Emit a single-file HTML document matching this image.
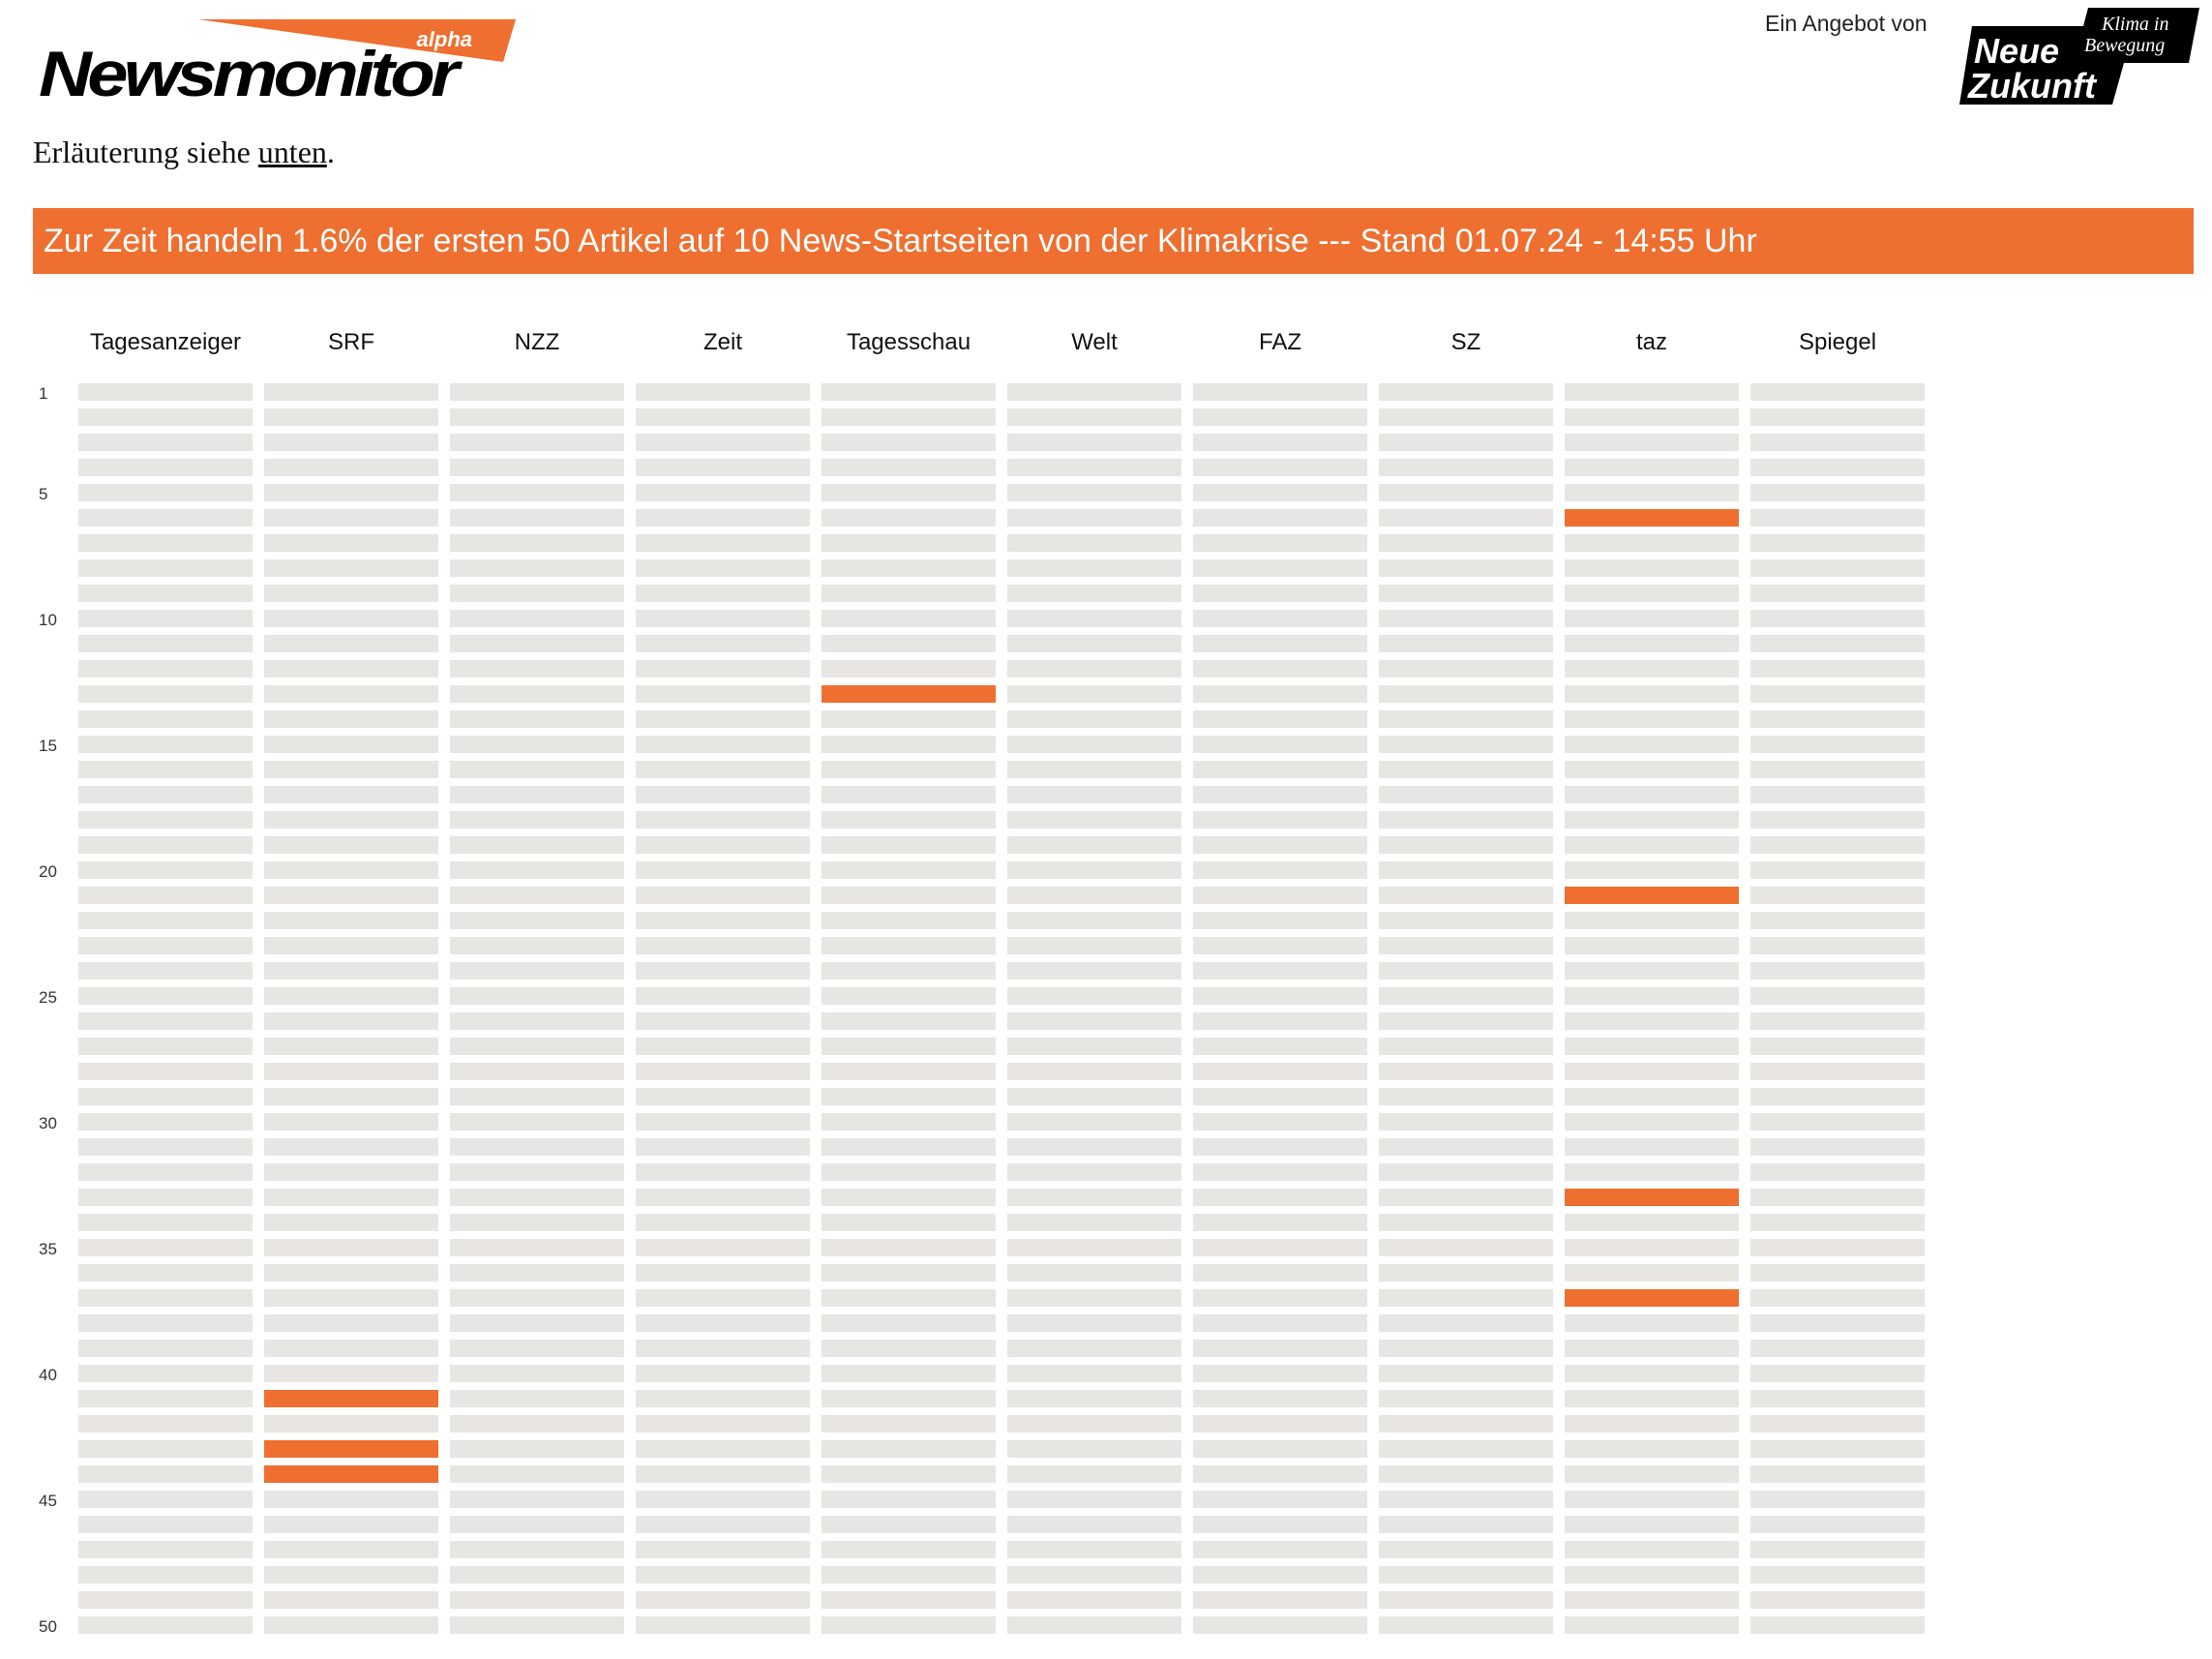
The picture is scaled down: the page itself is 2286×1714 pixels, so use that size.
<!DOCTYPE html>
<html>
<head>
<meta charset="utf-8">
<style>
  html,body{margin:0;padding:0;background:#fff;}
  body{width:2286px;height:1714px;position:relative;overflow:hidden;font-family:"Liberation Sans",sans-serif;}
  .abs{position:absolute;}
  #expl{left:34px;top:139px;font-family:"Liberation Serif",serif;font-size:32px;color:#111;}
  #expl a{color:#111;text-decoration:underline;}
  #banner{left:34px;top:215px;width:2233px;height:68px;background:#EE6F2F;color:#fff;font-size:34px;line-height:68px;box-sizing:border-box;padding-left:11px;white-space:nowrap;}
  #angebot{left:1824px;top:11px;font-size:23px;color:#222;}
</style>
</head>
<body>
<svg class="abs" style="left:0;top:0" width="560" height="110">
  <polygon points="205,20 533,20 520,64" fill="#EE6F2F"/>
  <text x="488" y="48" font-family="Liberation Sans, sans-serif" font-size="22" font-weight="bold" font-style="italic" fill="#fff" text-anchor="end">alpha</text>
  <text x="40" y="99" font-family="Liberation Sans, sans-serif" font-size="66" font-weight="bold" font-style="italic" fill="#000" letter-spacing="-4" textLength="430" lengthAdjust="spacingAndGlyphs">Newsmonitor</text>
</svg>
<div id="angebot" class="abs">Ein Angebot von</div>
<svg class="abs" style="left:2020px;top:5px" width="260" height="105">
  <polygon points="138,3 253,3 242,60 175,60 163,103 5,103 18,22 133,22" fill="#000"/>
  <text x="152" y="26" font-family="Liberation Serif, serif" font-style="italic" font-size="20" fill="#fff">Klima in</text>
  <text x="134" y="48" font-family="Liberation Serif, serif" font-style="italic" font-size="20" fill="#fff">Bewegung</text>
  <text x="20" y="60" font-family="Liberation Sans, sans-serif" font-weight="bold" font-style="italic" font-size="36" fill="#fff">Neue</text>
  <text x="14" y="96" font-family="Liberation Sans, sans-serif" font-weight="bold" font-style="italic" font-size="36" fill="#fff">Zukunft</text>
</svg>
<div id="expl" class="abs">Erläuterung siehe <a>unten</a>.</div>
<div id="banner" class="abs">Zur Zeit handeln 1.6% der ersten 50 Artikel auf 10 News-Startseiten von der Klimakrise --- Stand 01.07.24 - 14:55 Uhr</div>
<svg id="chart" class="abs" style="left:0;top:300px" width="2286" height="1414"></svg>
<script>
const sites = ["Tagesanzeiger","SRF","NZZ","Zeit","Tagesschau","Welt","FAZ","SZ","taz","Spiegel"];
const rowCount = 50;
const rowTicks = [1,5,10,15,20,25,30,35,40,45,50];
const climateSite = ["taz","Tagesschau","taz","taz","taz","SRF","SRF","SRF"];
const climateRank = [6,13,21,33,37,41,43,44];

const NS = "http://www.w3.org/2000/svg";
const svg = document.getElementById("chart");
const oy = 300;
function xCol(i){ return 81 + i*192; }
function yRow(r){ return 396 - oy + (r-1)*26; }
const colW = 180, barH = 18;
function mk(tag, attrs){ const e=document.createElementNS(NS,tag); for(const k in attrs) e.setAttribute(k, attrs[k]); svg.appendChild(e); return e; }

sites.forEach((s,i)=>{
  const t = mk("text",{x:xCol(i)+colW/2, y:361-oy, "text-anchor":"middle", "font-size":"24", fill:"#111", "font-family":"Liberation Sans, sans-serif"});
  t.textContent = s;
  
  
});
rowTicks.forEach(r=>{
  const t = mk("text",{x:40, y:yRow(r)+16, "font-size":"17", fill:"#333", "font-family":"Liberation Sans, sans-serif"});
  t.textContent = r;
  
  
});
const hits = new Set(climateSite.map((s,k)=>s+"|"+climateRank[k]));
sites.forEach((s,i)=>{
  for(let r=1;r<=rowCount;r++){
    const hit = hits.has(s+"|"+r);
    const b = mk("rect",{x:xCol(i), y:yRow(r), width:colW, height:barH, fill: hit ? "#EE6F2F" : "#E8E6E2"});
    
    
  }
});
</script>
</body>
</html>
